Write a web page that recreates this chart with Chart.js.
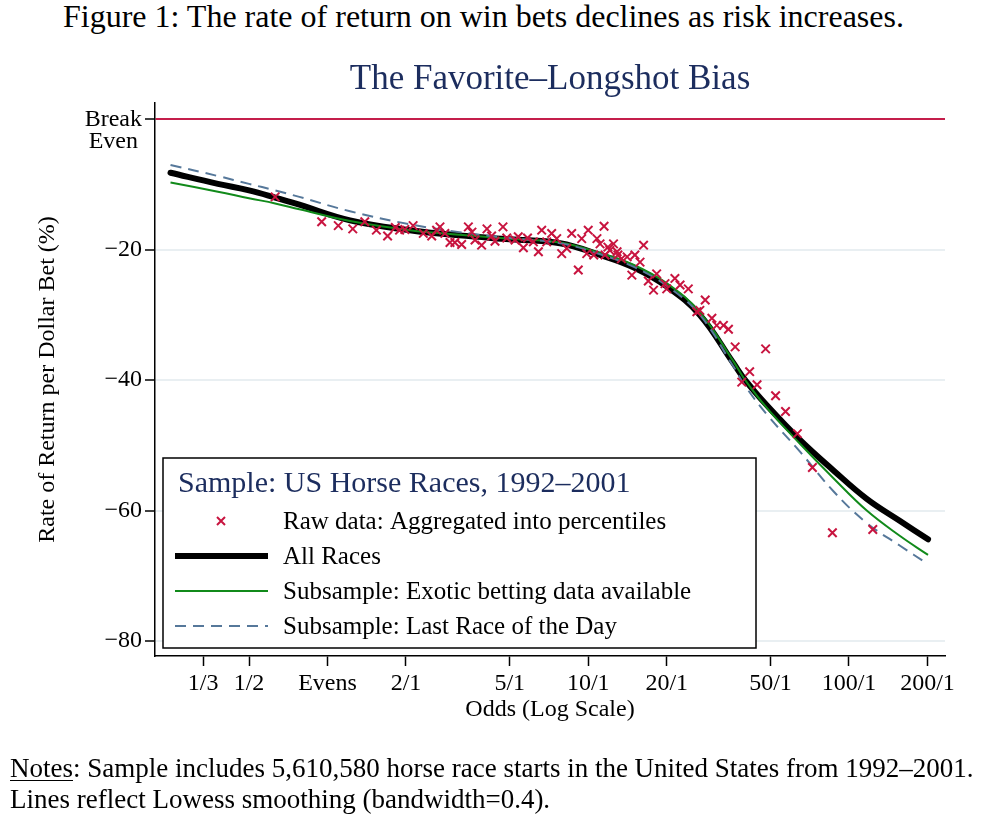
<!DOCTYPE html>
<html>
<head>
<meta charset="utf-8">
<script src="https://cdn.jsdelivr.net/npm/chart.js@4.4.1/dist/chart.umd.min.js"></script>
<style>
  html, body { margin: 0; padding: 0; background: #fff; }
  body {
    width: 998px; height: 814px; position: relative; overflow: hidden;
    font-family: "Liberation Serif", "Times New Roman", serif; color: #000;
  }
  #chart { position: absolute; left: 0; top: 0; }
  .heading { position: absolute; left: 63px; top: -2px; font-size: 32px; line-height: 36px; white-space: nowrap; }
  .notes { position: absolute; left: 10px; top: 753px; font-size: 27px; line-height: 31px; white-space: nowrap; }
  .notes u { text-decoration-thickness: 1px; text-underline-offset: 3px; }
</style>
</head>
<body>
<div class="heading">Figure 1: The rate of return on win bets declines as risk increases.</div>
<canvas id="chart" width="998" height="814"></canvas>
<div class="notes"><u>Notes</u>: Sample includes 5,610,580 horse race starts in the United States from 1992–2001.<br>Lines reflect Lowess smoothing (bandwidth=0.4).</div>
<script>
{
  'use strict';

  /* Data */
  const tickOdds = [1 / 3, 0.5, 1, 2, 5, 10, 20, 50, 100, 200];
  const tickLabels = ['1/3', '1/2', 'Evens', '2/1', '5/1', '10/1', '20/1', '50/1', '100/1', '200/1'];
  const yTicks = [-80, -60, -40, -20, 0];
  const yLabels = ['\u221280', '\u221260', '\u221240', '\u221220', 'Break'];

  const lineOdds = [0.25, 0.38, 0.5, 0.63, 0.78, 1.22, 2.07, 3.2, 5.0, 7.8, 11.1, 14.9, 20.1, 26.8, 35.9, 40, 48.5, 65, 87, 117, 157, 201];
  const allRaces = [-8.2, -9.9, -10.9, -12.0, -13.1, -15.5, -17.0, -17.8, -18.4, -19.0, -20.8, -22.7, -25.7, -30.0, -37.3, -40.0, -43.9, -49.2, -53.8, -58.2, -61.6, -64.4];
  const exotic = [-9.7, -11.1, -12.1, -12.9, -13.8, -15.6, -17.0, -17.7, -18.3, -18.9, -20.5, -22.3, -25.2, -29.6, -37.0, -40.0, -44.3, -49.8, -55.0, -60.0, -63.9, -66.8];
  const lastRace = [-7.0, -8.7, -9.9, -10.9, -11.9, -14.1, -16.1, -17.3, -18.2, -19.0, -20.7, -22.6, -25.6, -30.0, -37.8, -40.9, -45.3, -51.0, -57.0, -61.9, -65.4, -68.2];

  const rawOdds = [0.63, 0.95, 1.10, 1.25, 1.39, 1.54, 1.70, 1.82, 1.89, 1.98, 2.13, 2.33, 2.51, 2.62, 2.70, 2.82, 2.95, 3.08, 3.27, 3.47, 3.58, 3.68, 3.90, 4.09, 4.26, 4.39, 4.71, 4.87, 5.24, 5.39, 5.64, 5.85, 6.16, 6.44, 6.63, 6.93, 7.24, 7.57, 7.91, 8.27, 8.64, 9.16, 9.44, 9.87, 10.0, 10.5, 10.8, 11.1, 11.5, 11.6, 11.9, 12.1, 12.5, 12.9, 13.0, 13.4, 14.1, 14.7, 15.1, 15.8, 16.3, 17.0, 17.8, 18.3, 19.7, 20.0, 21.5, 22.5, 24.2, 26.1, 26.8, 28.1, 29.8, 31.1, 33.0, 34.5, 36.6, 38.8, 41.6, 44.4, 47.9, 52.3, 57.1, 63.4, 72.4, 86.4, 123.4];
  const rawReturn = [-11.9, -15.7, -16.3, -16.8, -15.7, -17.0, -17.9, -16.6, -17.0, -16.9, -16.3, -17.5, -17.9, -17.0, -16.5, -17.5, -18.9, -18.9, -19.2, -16.5, -17.3, -18.5, -19.3, -16.8, -17.9, -18.7, -16.5, -18.2, -18.5, -18.0, -19.7, -18.2, -18.8, -20.3, -17.0, -18.8, -17.5, -18.3, -20.6, -19.8, -17.5, -23.1, -18.3, -20.6, -17.0, -20.8, -18.3, -19.1, -16.4, -20.8, -19.6, -20.1, -19.1, -20.3, -20.8, -21.4, -21.1, -23.9, -20.8, -21.9, -19.3, -24.8, -26.2, -23.7, -25.2, -26.0, -24.4, -25.4, -26.0, -29.5, -29.3, -27.7, -30.5, -31.6, -31.6, -32.2, -34.9, -40.3, -38.7, -40.7, -35.2, -42.4, -44.8, -48.2, -53.4, -63.4, -62.9];

  /* Colours */
  const red = '#c8143f';
  const green = '#118a1a';
  const navy = '#1c2d5e';
  const slate = '#56789a';
  const FONT = 'Liberation Serif';

  const pairs = function (xs, ys) {
    return xs.map(function (x, i) { return { x: x, y: ys[i] }; });
  };

  /* Second line of the "Break Even" tick and the in-plot legend */
  const extras = {
    id: 'extras',
    afterDraw(chart) {
      const ctx = chart.ctx;
      const area = chart.chartArea;
      const yScale = chart.scales.y;

      ctx.save();
      ctx.font = '24px "' + FONT + '"';
      ctx.fillStyle = '#000';
      ctx.textBaseline = 'middle';
      const breakW = ctx.measureText('Break').width;
      const right = yScale.right - 13;
      ctx.textAlign = 'center';
      ctx.fillText('Even', right - breakW / 2, yScale.getPixelForValue(0) + 22);

      // legend box
      const bx = area.left + 8;
      const by = area.bottom - 198;
      const bw = 593;
      const bh = 190;
      ctx.fillStyle = '#fff';
      ctx.fillRect(bx, by, bw, bh);
      ctx.strokeStyle = '#000';
      ctx.lineWidth = 1.5;
      ctx.strokeRect(bx, by, bw, bh);

      ctx.textAlign = 'left';
      ctx.textBaseline = 'alphabetic';
      ctx.fillStyle = navy;
      ctx.font = '30px "' + FONT + '"';
      ctx.fillText('Sample: US Horse Races, 1992\u20132001', bx + 15, by + 34);

      const rows = [
        { label: 'Raw data: Aggregated into percentiles', kind: 'mark' },
        { label: 'All Races', kind: 'line', color: '#000', width: 6, dash: [] },
        { label: 'Subsample: Exotic betting data available', kind: 'line', color: green, width: 2, dash: [] },
        { label: 'Subsample: Last Race of the Day', kind: 'line', color: slate, width: 2, dash: [11, 7] }
      ];
      ctx.font = '25px "' + FONT + '"';
      rows.forEach(function (row, i) {
        const cy = by + 63 + i * 35;
        if (row.kind === 'mark') {
          ctx.strokeStyle = red;
          ctx.lineWidth = 2;
          ctx.setLineDash([]);
          ctx.beginPath();
          ctx.moveTo(bx + 54, cy - 4); ctx.lineTo(bx + 62, cy + 4);
          ctx.moveTo(bx + 62, cy - 4); ctx.lineTo(bx + 54, cy + 4);
          ctx.stroke();
        } else {
          ctx.strokeStyle = row.color;
          ctx.lineWidth = row.width;
          ctx.setLineDash(row.dash);
          ctx.beginPath();
          ctx.moveTo(bx + 12, cy);
          ctx.lineTo(bx + 105, cy);
          ctx.stroke();
        }
        ctx.setLineDash([]);
        ctx.fillStyle = '#000';
        ctx.fillText(row.label, bx + 120, cy + 8);
      });
      ctx.restore();
    }
  };

  function initChart() {
    const ctx = document.getElementById('chart').getContext('2d');

    // eslint-disable-next-line no-undef
    new Chart(ctx, {
      type: 'line',
      data: {
        datasets: [
          {
            label: 'Raw data: Aggregated into percentiles',
            data: pairs(rawOdds, rawReturn),
            showLine: false,
            pointStyle: 'crossRot',
            pointRadius: 6,
            pointBorderColor: red,
            pointBorderWidth: 2,
            borderColor: red
          },
          {
            label: 'Subsample: Last Race of the Day',
            data: pairs(lineOdds, lastRace),
            borderColor: slate,
            borderWidth: 2,
            borderDash: [11, 7],
            pointRadius: 0,
            tension: 0.4
          },
          {
            label: 'Subsample: Exotic betting data available',
            data: pairs(lineOdds, exotic),
            borderColor: green,
            borderWidth: 2,
            pointRadius: 0,
            tension: 0.4
          },
          {
            label: 'All Races',
            data: pairs(lineOdds, allRaces),
            borderColor: '#000',
            borderWidth: 6,
            borderCapStyle: 'round',
            pointRadius: 0,
            tension: 0.4
          }
        ]
      },
      options: {
        responsive: false,
        animation: false,
        devicePixelRatio: 1,
        layout: { padding: { top: 0, right: 53, bottom: 90, left: 0 } },
        plugins: {
          legend: { display: false },
          tooltip: { enabled: false },
          title: {
            display: true,
            fullSize: false,
            text: 'The Favorite\u2013Longshot Bias',
            color: navy,
            font: { family: FONT, size: 35, weight: 'normal', lineHeight: 1.2 },
            padding: { top: 59, bottom: 2 },
            align: 'center'
          }
        },
        scales: {
          x: {
            type: 'logarithmic',
            min: 0.218,
            max: 233.5,
            afterBuildTicks(scale) {
              scale.ticks = tickOdds.map(function (v) { return { value: v }; });
            },
            afterFit(scale) { scale.height = 68; },
            ticks: {
              autoSkip: false,
              maxRotation: 0,
              padding: 3,
              color: '#000',
              font: { family: FONT, size: 24 },
              callback: function (value, index) { return tickLabels[index]; }
            },
            grid: { drawOnChartArea: false, drawTicks: true, tickLength: 10, tickColor: '#000', tickWidth: 1.5 },
            border: { display: true, color: '#000', width: 1.5 },
            title: {
              display: true,
              text: 'Odds (Log Scale)',
              color: '#000',
              font: { family: FONT, size: 24 },
              padding: 0
            }
          },
          y: {
            type: 'linear',
            min: -82.3,
            max: 2.5,
            afterBuildTicks(scale) {
              scale.ticks = yTicks.map(function (v) { return { value: v }; });
            },
            afterFit(scale) { scale.width = 155; },
            ticks: {
              padding: 3,
              color: '#000',
              font: { family: FONT, size: 24 },
              callback: function (value, index) { return yLabels[index]; }
            },
            grid: {
              color: function (c) { return c.tick && c.tick.value === 0 ? '#c41e4b' : '#e9eff2'; },
              lineWidth: 2,
              drawTicks: true,
              tickLength: 10,
              tickColor: '#000',
              tickWidth: 1.5
            },
            border: { display: true, color: '#000', width: 1.5 },
            title: {
              display: true,
              text: 'Rate of Return per Dollar Bet (%)',
              color: '#000',
              font: { family: FONT, size: 24 },
              padding: { top: 33, bottom: 0 }
            }
          }
        }
      },
      plugins: [extras]
    });
  }

  initChart();
}
</script>
</body>
</html>
